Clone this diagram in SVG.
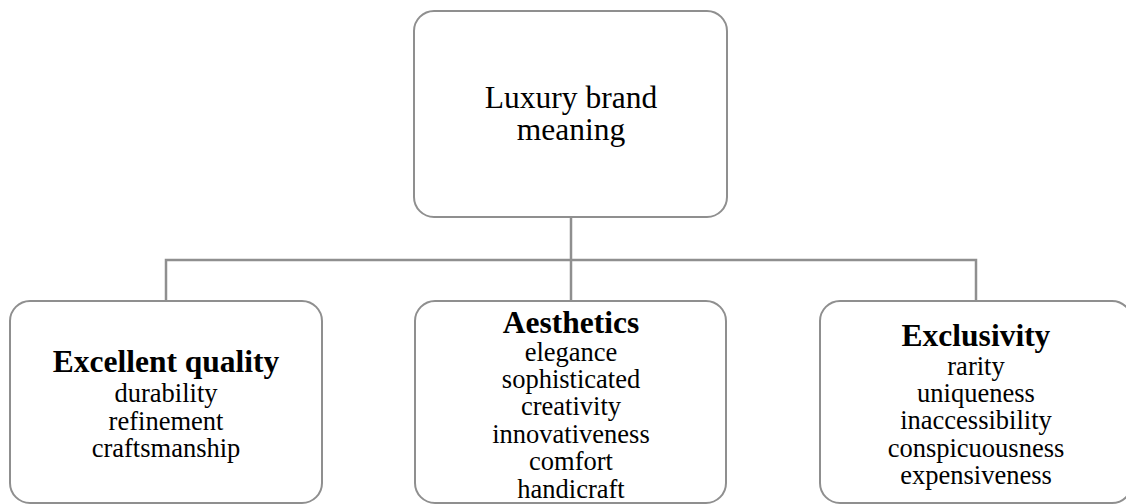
<svg xmlns="http://www.w3.org/2000/svg" width="1126" height="504" viewBox="0 0 1126 504">
  <style>
    .box { fill: #ffffff; stroke: #8f8f8f; stroke-width: 2; }
    .conn { fill: none; stroke: #8f8f8f; stroke-width: 2.5; }
    text { font-family: "Liberation Serif", "Times New Roman", serif; fill: #000000; text-anchor: middle; }
    .head { font-size: 31.5px; font-weight: bold; }
    .item { font-size: 26.5px; }
    .main { font-size: 31.5px; }
  </style>
  <rect width="1126" height="504" fill="#ffffff"/>
  <g id="connectors">
    <path class="conn" d="M571,217 V301"/>
    <path class="conn" d="M166,301 V260 H976 V301"/>
  </g>
  <g id="node-luxury">
    <rect class="box" x="414" y="11" width="313" height="206" rx="20" ry="20"/>
    <text class="main" x="571" y="108">Luxury brand</text>
    <text class="main" x="571" y="140">meaning</text>
  </g>
  <g id="node-quality">
    <rect class="box" x="10" y="301" width="312" height="202" rx="20" ry="20"/>
    <text class="head" x="166" y="372">Excellent quality</text>
    <text class="item" x="166" y="402">durability</text>
    <text class="item" x="166" y="430">refinement</text>
    <text class="item" x="166" y="457">craftsmanship</text>
  </g>
  <g id="node-aesthetics">
    <rect class="box" x="415" y="301" width="311" height="202" rx="20" ry="20"/>
    <text class="head" x="571" y="333">Aesthetics</text>
    <text class="item" x="571" y="361">elegance</text>
    <text class="item" x="571" y="388">sophisticated</text>
    <text class="item" x="571" y="415">creativity</text>
    <text class="item" x="571" y="443">innovativeness</text>
    <text class="item" x="571" y="470">comfort</text>
    <text class="item" x="571" y="498">handicraft</text>
  </g>
  <g id="node-exclusivity">
    <rect class="box" x="820" y="301" width="312" height="202" rx="20" ry="20"/>
    <text class="head" x="976" y="346">Exclusivity</text>
    <text class="item" x="976" y="375">rarity</text>
    <text class="item" x="976" y="402">uniqueness</text>
    <text class="item" x="976" y="429">inaccessibility</text>
    <text class="item" x="976" y="457">conspicuousness</text>
    <text class="item" x="976" y="484">expensiveness</text>
  </g>
</svg>
